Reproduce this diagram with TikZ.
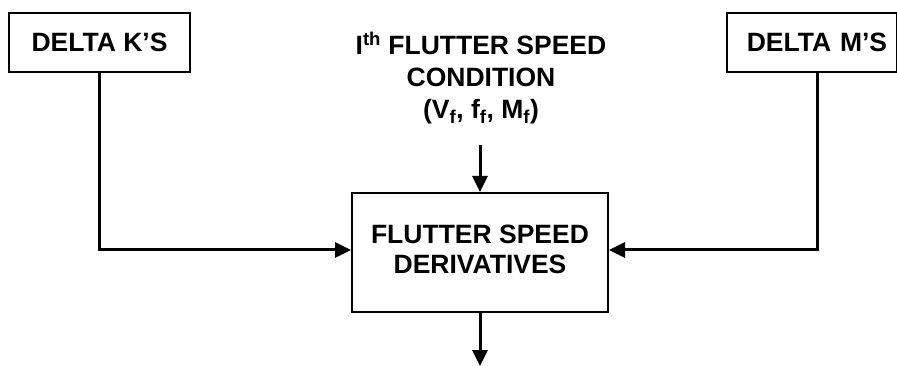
\documentclass[tikz,border=0pt]{standalone}
\usepackage{fontspec}
\setmainfont{Liberation Sans}
\usetikzlibrary{arrows.meta}
\begin{document}
\begin{tikzpicture}[x=1pt,y=-1pt,
  lbl/.style={font=\fontsize{26.5}{30}\selectfont\bfseries, align=center, inner sep=0pt},
  box/.style={draw, line width=2pt, inner sep=0pt},
  conn/.style={line width=3pt},
  arr/.style={conn, -{Triangle[length=16pt,width=15pt]}}]
\useasboundingbox (0,0) rectangle (897,366);
\node[box, lbl, minimum width=181pt, minimum height=59pt] (dk) at (99.5,42.5) {DELTA K'S};
\node[box, lbl, minimum width=170pt, minimum height=59pt, text width=160pt] (dm) at (811.5,42.5) {\hspace*{11pt}DELTA M'S};
\node[lbl, font=\fontsize{26.5}{32}\selectfont\bfseries] (cond) at (481,78) {I\textsuperscript{th} FLUTTER SPEED\\CONDITION\\(V\textsubscript{f}, f\textsubscript{f}, M\textsubscript{f})};
\node[box, minimum width=256pt, minimum height=119pt] (fsd) at (480,252.5) {};
\node[lbl] (fsdtext) at (480,249) {FLUTTER SPEED\\DERIVATIVES};
\coordinate (ctop) at (480,145);
\coordinate (out) at (480,366);
\draw[arr] (ctop) -- (fsd.north);
\draw[arr] (fsd.south) -- (out);
\draw[arr] ([xshift=-0.5pt]dk.south) |- ([yshift=2.5pt]fsd.west);
\draw[arr] ([xshift=5.5pt]dm.south) |- ([yshift=2.5pt]fsd.east);
\end{tikzpicture}
\end{document}
